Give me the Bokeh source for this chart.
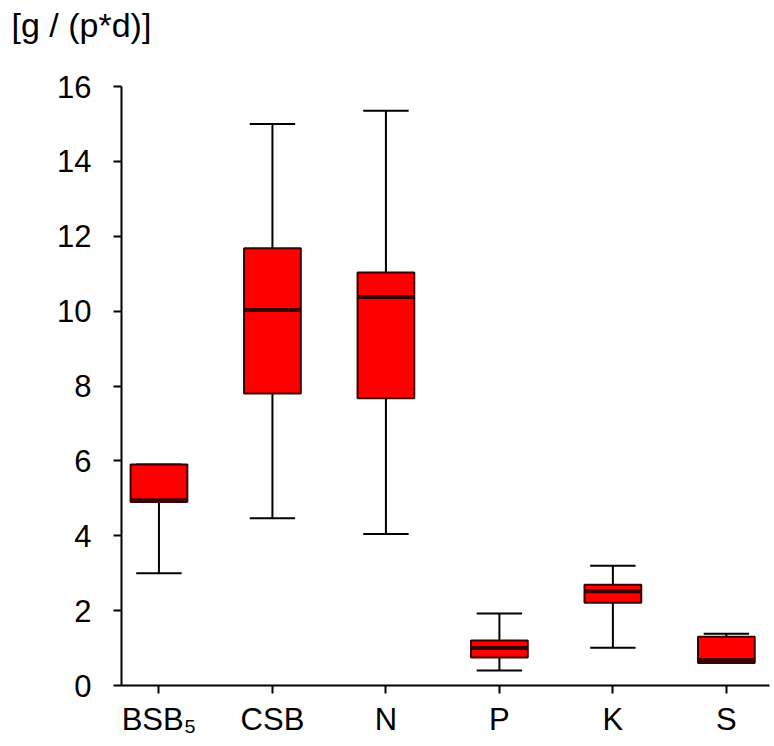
from bokeh.plotting import figure
from bokeh.models import FixedTicker, ColumnDataSource, Title
from bokeh.transform import dodge
from bokeh.embed import file_html
from bokeh.resources import INLINE

categories = ["BSB₅", "CSB", "N", "P", "K", "S"]
whisker_low = [3.0, 4.47, 4.05, 0.40, 1.01, 0.60]
q1 = [4.90, 7.80, 7.67, 0.75, 2.21, 0.60]
median = [4.95, 10.03, 10.38, 1.00, 2.52, 0.68]
q3 = [5.90, 11.68, 11.03, 1.20, 2.69, 1.30]
whisker_high = [5.90, 15.00, 15.35, 1.92, 3.20, 1.38]
y_ticks = [0, 2, 4, 6, 8, 10, 12, 14, 16]
unit_label = "[g / (p*d)]"

xs = list(range(len(categories)))
src = ColumnDataSource(dict(x=xs, lo=whisker_low, q1=q1, med=median, q3=q3, hi=whisker_high))

FONT = "Liberation Sans"

p = figure(width=771, height=739, output_backend="svg", toolbar_location=None,
           x_range=(-0.33, 5.38), y_range=(0, 16),
           min_border_left=121, min_border_top=83, min_border_right=2, min_border_bottom=50)
p.outline_line_color = None
p.grid.grid_line_color = None
p.background_fill_color = "white"

# whiskers
p.segment(x0="x", y0="lo", x1="x", y1="q1", source=src, line_color="black", line_width=2)
p.segment(x0="x", y0="q3", x1="x", y1="hi", source=src, line_color="black", line_width=2)
p.segment(x0=dodge("x", -0.2), y0="lo", x1=dodge("x", 0.2), y1="lo", source=src,
          line_color="black", line_width=2)
p.segment(x0=dodge("x", -0.2), y0="hi", x1=dodge("x", 0.2), y1="hi", source=src,
          line_color="black", line_width=2)
# boxes
p.vbar(x="x", bottom="q1", top="q3", width=0.5, source=src,
       fill_color="#ff0000", line_color="#3a0000", line_width=2)
# medians
p.segment(x0=dodge("x", -0.25), y0="med", x1=dodge("x", 0.25), y1="med", source=src,
          line_color="#3a0000", line_width=4)

# spacer panel between the unit title and the frame
p.add_layout(Title(text=" ", text_font_size="1px", standoff=33), "above")

p.title.text = unit_label
p.title.align = "left"
p.title.offset = -110
p.title.vertical_align = "top"
p.title.text_font = FONT
p.title.text_font_size = "34px"
p.title.text_font_style = "normal"
p.title.text_color = "black"
p.title.standoff = 10

p.yaxis.ticker = FixedTicker(ticks=y_ticks)
p.xaxis.ticker = FixedTicker(ticks=xs)
p.xaxis.major_label_overrides = {i: c for i, c in enumerate(categories)}
for ax in (p.xaxis[0], p.yaxis[0]):
    ax.axis_line_width = 2
    ax.axis_line_color = "black"
    ax.major_tick_line_width = 2
    ax.major_tick_line_color = "black"
    ax.major_tick_in = 0
    ax.major_tick_out = 8
    ax.minor_tick_line_color = None
    ax.major_label_text_font = FONT
    ax.major_label_text_font_size = "31px"
    ax.major_label_text_color = "black"
p.yaxis.major_label_standoff = 22
p.xaxis.major_label_standoff = 8

open("out.html", "w").write(file_html(p, INLINE))
